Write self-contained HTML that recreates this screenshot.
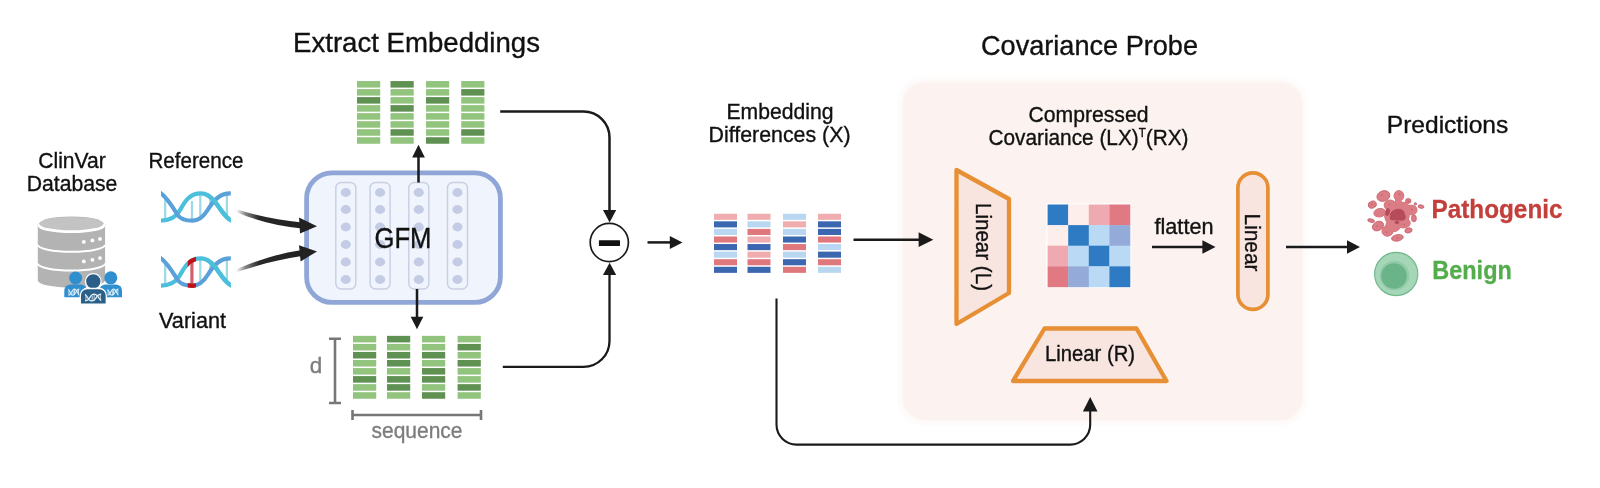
<!DOCTYPE html>
<html><head><meta charset="utf-8">
<style>
html,body{margin:0;padding:0;background:#fff;}
svg{display:block;will-change:transform;transform:translateZ(0)}
text{font-family:"Liberation Sans",sans-serif;fill:#111;stroke:#111;stroke-width:0.35px;}
</style></head>
<body>
<svg width="1600" height="488" viewBox="0 0 1600 488">
<defs>
<linearGradient id="ga" gradientUnits="userSpaceOnUse" x1="236" y1="0" x2="300" y2="0">
<stop offset="0" stop-color="#222" stop-opacity="0"/>
<stop offset="0.15" stop-color="#222" stop-opacity="0.55"/>
<stop offset="0.36" stop-color="#222" stop-opacity="0.97"/>
<stop offset="1" stop-color="#222" stop-opacity="1"/>
</linearGradient>
<filter id="soft" x="-5%" y="-5%" width="110%" height="110%"><feGaussianBlur stdDeviation="1"/></filter>
</defs>
<rect width="1600" height="488" fill="#fff"/>

<!-- pink panel -->
<rect x="897" y="76" width="411" height="350" rx="27" fill="#fefcfb" filter="url(#soft)"/>
<rect x="902.200" y="81.5" width="400.800" height="339.200" rx="22.5" fill="#fcf3f0" filter="url(#soft)"/>

<!-- titles -->
<text x="416.5" y="51.700" font-size="27.5" text-anchor="middle" textLength="247" lengthAdjust="spacingAndGlyphs">Extract Embeddings</text>
<text x="1089.5" y="54.5" font-size="27.5" text-anchor="middle" textLength="217" lengthAdjust="spacingAndGlyphs">Covariance Probe</text>

<!-- left labels -->
<text x="72" y="168.200" font-size="21.5" text-anchor="middle" textLength="67.5" lengthAdjust="spacingAndGlyphs">ClinVar</text>
<text x="72" y="191" font-size="21.5" text-anchor="middle" textLength="90.5" lengthAdjust="spacingAndGlyphs">Database</text>
<text x="196" y="168.200" font-size="21.5" text-anchor="middle" textLength="95" lengthAdjust="spacingAndGlyphs">Reference</text>
<text x="192.5" y="328" font-size="21.5" text-anchor="middle" textLength="67" lengthAdjust="spacingAndGlyphs">Variant</text>

<!-- DB icon -->
<g id="db">
<path d="M37.800 224 V 280.5 a33.650 7 0 0 0 67.300 0 V 224 z" fill="#b3b3b3"/>
<ellipse cx="71.450" cy="224" rx="33.650" ry="7.600" fill="#b3b3b3"/>
<path d="M37.800 226 a33.650 7 0 0 0 67.300 0 V 220 H 37.800 z" fill="#fff"/>
<ellipse cx="71.400" cy="223.600" rx="32.300" ry="6.700" fill="#c3c3c3"/>
<path d="M37.800 244.800 a33.650 7 0 0 0 67.300 0" fill="none" stroke="#fff" stroke-width="2"/>
<path d="M37.800 263.5 a33.650 7 0 0 0 67.300 0" fill="none" stroke="#fff" stroke-width="2"/>
<circle cx="83.800" cy="241.900" r="1.900" fill="#fff"/><circle cx="92.400" cy="240.400" r="1.900" fill="#fff"/><circle cx="100" cy="238.900" r="1.900" fill="#fff"/>
<circle cx="83.800" cy="261.400" r="1.900" fill="#fff"/><circle cx="92.400" cy="259.800" r="1.900" fill="#fff"/><circle cx="100" cy="258.100" r="1.900" fill="#fff"/>
</g>
<g id="people">
<circle cx="75.600" cy="278" r="6.5" fill="#2f8fcf"/>
<path d="M64.300 297.200 V 290.5 a 6 6 0 0 1 6 -6 h 10.5 a 6 6 0 0 1 6 6 V 297.200 z" fill="#2f8fcf"/>
<circle cx="110.800" cy="277.800" r="6.5" fill="#2f8fcf"/>
<path d="M99.5 297.200 V 290.5 a 6 6 0 0 1 6 -6 h 10.5 a 6 6 0 0 1 6 6 V 297.200 z" fill="#2f8fcf"/>
<g transform="translate(68.3,289.2) scale(0.1566,0.2198) translate(-161,-193.4)" fill="none" stroke="#e4f1fa"><path d="M161,220.6 C 170,220.6 175,218 179,211.7 C 184,203.5 188,193.4 201,193.4 C 207,193.4 211,197 214.9,201.6 C 220,208 224,216.5 230.6,220.2" stroke-width="5.85"/><path d="M161,193.4 C 167,197.5 172,206 178,215.4 C 181,219.6 186,220.7 192.5,220.7 C 199,220.7 204,216 208,209.5 C 213,201 219,193.4 230.6,193.4" stroke-width="5.85"/><line x1="165" y1="198" x2="165" y2="218" stroke-width="5.11"/><line x1="192" y1="201" x2="192" y2="219" stroke-width="5.11"/><line x1="200.3" y1="196" x2="200.3" y2="216" stroke-width="5.11"/><line x1="226.9" y1="196" x2="226.9" y2="216" stroke-width="5.11"/></g>
<g transform="translate(107.5,289.2) scale(0.1566,0.2198) translate(-161,-193.4)" fill="none" stroke="#e4f1fa"><path d="M161,220.6 C 170,220.6 175,218 179,211.7 C 184,203.5 188,193.4 201,193.4 C 207,193.4 211,197 214.9,201.6 C 220,208 224,216.5 230.6,220.2" stroke-width="5.85"/><path d="M161,193.4 C 167,197.5 172,206 178,215.4 C 181,219.6 186,220.7 192.5,220.7 C 199,220.7 204,216 208,209.5 C 213,201 219,193.4 230.6,193.4" stroke-width="5.85"/><line x1="165" y1="198" x2="165" y2="218" stroke-width="5.11"/><line x1="192" y1="201" x2="192" y2="219" stroke-width="5.11"/><line x1="200.3" y1="196" x2="200.3" y2="216" stroke-width="5.11"/><line x1="226.9" y1="196" x2="226.9" y2="216" stroke-width="5.11"/></g>
<circle cx="93.300" cy="281.400" r="7.800" fill="#2b5f87" stroke="#fff" stroke-width="1.300"/>
<path d="M80.300 304.200 V 295.5 a 7 7 0 0 1 7 -7 h 12 a 7 7 0 0 1 7 7 V 304.200 z" fill="#2b5f87" stroke="#fff" stroke-width="1.300"/>
<rect x="79" y="304.300" width="29" height="2" fill="#fff"/>
<g transform="translate(85,294.2) scale(0.2328,0.2418) translate(-161,-193.4)" fill="none" stroke="#e4f1fa"><path d="M161,220.6 C 170,220.6 175,218 179,211.7 C 184,203.5 188,193.4 201,193.4 C 207,193.4 211,197 214.9,201.6 C 220,208 224,216.5 230.6,220.2" stroke-width="5.27"/><path d="M161,193.4 C 167,197.5 172,206 178,215.4 C 181,219.6 186,220.7 192.5,220.7 C 199,220.7 204,216 208,209.5 C 213,201 219,193.4 230.6,193.4" stroke-width="5.27"/><line x1="165" y1="198" x2="165" y2="218" stroke-width="3.44"/><line x1="192" y1="201" x2="192" y2="219" stroke-width="3.44"/><line x1="200.3" y1="196" x2="200.3" y2="216" stroke-width="3.44"/><line x1="226.9" y1="196" x2="226.9" y2="216" stroke-width="3.44"/></g>
</g>

<!-- DNA icons -->
<clipPath id="dnaclip"><rect x="161" y="185" width="69.800" height="110"/></clipPath>
<g clip-path="url(#dnaclip)">
<g id="dna1">
<g stroke="#9ad9e6" stroke-width="2.200">
<line x1="165.200" y1="198" x2="165.200" y2="218.5"/>
<line x1="192" y1="201" x2="192" y2="219.5"/>
<line x1="200.300" y1="195" x2="200.300" y2="216"/>
<line x1="210.300" y1="198" x2="210.300" y2="206"/>
<line x1="226.900" y1="195" x2="226.900" y2="215.5"/>
</g>
<path id="cy" d="M157,220.600 L161,220.600 C 170,220.600 175,218 179,211.700 C 184,203.5 188,193.400 201,193.400 C 207,193.400 211,197 214.900,201.600 C 220,208 224,216.5 230.600,220.200 L 234,222.100" fill="none" stroke="#4cbfdb" stroke-width="4.200"/>
<path id="bl" d="M157,190.600 L161,193.400 C 167,197.5 172,206 178,215.400 C 181,219.600 186,220.700 192.5,220.700 C 199,220.700 204,216 208,209.5 C 213,201 219,193.400 230.600,193.400 L 234,193.400" fill="none" stroke="#5ba1d9" stroke-width="4.200"/>
<path d="M206,194.5 C 210,196 212,198.5 214.900,201.600 C 220,208 224,216.5 230.600,220.200 L 234,222.100" fill="none" stroke="#4cbfdb" stroke-width="4.200"/>
</g>
<clipPath id="redclip"><rect x="187.700" y="250" width="8.300" height="45"/></clipPath>
<g id="dna2" transform="translate(0,65)">
<g stroke="#9ad9e6" stroke-width="2.200">
<line x1="165.200" y1="198" x2="165.200" y2="218.5"/>
<line x1="200.300" y1="195" x2="200.300" y2="216"/>
<line x1="210.300" y1="198" x2="210.300" y2="206"/>
<line x1="226.900" y1="195" x2="226.900" y2="215.5"/>
</g>
<line x1="191.900" y1="196" x2="191.900" y2="220" stroke="#d2606c" stroke-width="3.200"/>
<path d="M157,220.600 L161,220.600 C 170,220.600 175,218 179,211.700 C 184,203.5 188,193.400 201,193.400 C 207,193.400 211,197 214.900,201.600 C 220,208 224,216.5 230.600,220.200 L 234,222.100" fill="none" stroke="#4cbfdb" stroke-width="4.200"/>
<path d="M157,190.600 L161,193.400 C 167,197.5 172,206 178,215.400 C 181,219.600 186,220.700 192.5,220.700 C 199,220.700 204,216 208,209.5 C 213,201 219,193.400 230.600,193.400 L 234,193.400" fill="none" stroke="#5ba1d9" stroke-width="4.200"/>
<path d="M206,194.5 C 210,196 212,198.5 214.900,201.600 C 220,208 224,216.5 230.600,220.200 L 234,222.100" fill="none" stroke="#4cbfdb" stroke-width="4.200"/>
</g>
</g>
<g clip-path="url(#redclip)">
<g transform="translate(0,65)">
<path d="M157,220.600 L161,220.600 C 170,220.600 175,218 179,211.700 C 184,203.5 188,193.400 201,193.400 C 207,193.400 211,197 214.900,201.600 C 220,208 224,216.5 230.600,220.200 L 234,222.100" fill="none" stroke="#c1121c" stroke-width="4.400"/>
<path d="M157,190.600 L161,193.400 C 167,197.5 172,206 178,215.400 C 181,219.600 186,220.700 192.5,220.700 C 199,220.700 204,216 208,209.5 C 213,201 219,193.400 230.600,193.400 L 234,193.400" fill="none" stroke="#c1121c" stroke-width="4.400"/>
</g></g>

<!-- green grids -->
<rect x="357.0" y="81.05" width="23.2" height="6.53" fill="#93c47d"/>
<rect x="357.0" y="89.08" width="23.2" height="6.53" fill="#93c47d"/>
<rect x="357.0" y="97.10" width="23.2" height="6.53" fill="#5f9152"/>
<rect x="357.0" y="105.12" width="23.2" height="6.53" fill="#93c47d"/>
<rect x="357.0" y="113.15" width="23.2" height="6.53" fill="#93c47d"/>
<rect x="357.0" y="121.17" width="23.2" height="6.53" fill="#93c47d"/>
<rect x="357.0" y="129.20" width="23.2" height="6.53" fill="#93c47d"/>
<rect x="357.0" y="137.22" width="23.2" height="6.53" fill="#93c47d"/>
<rect x="390.5" y="81.05" width="23.2" height="6.53" fill="#5f9152"/>
<rect x="390.5" y="89.08" width="23.2" height="6.53" fill="#93c47d"/>
<rect x="390.5" y="97.10" width="23.2" height="6.53" fill="#93c47d"/>
<rect x="390.5" y="105.12" width="23.2" height="6.53" fill="#5f9152"/>
<rect x="390.5" y="113.15" width="23.2" height="6.53" fill="#93c47d"/>
<rect x="390.5" y="121.17" width="23.2" height="6.53" fill="#93c47d"/>
<rect x="390.5" y="129.20" width="23.2" height="6.53" fill="#5f9152"/>
<rect x="390.5" y="137.22" width="23.2" height="6.53" fill="#93c47d"/>
<rect x="426.0" y="81.05" width="23.2" height="6.53" fill="#93c47d"/>
<rect x="426.0" y="89.08" width="23.2" height="6.53" fill="#93c47d"/>
<rect x="426.0" y="97.10" width="23.2" height="6.53" fill="#5f9152"/>
<rect x="426.0" y="105.12" width="23.2" height="6.53" fill="#93c47d"/>
<rect x="426.0" y="113.15" width="23.2" height="6.53" fill="#93c47d"/>
<rect x="426.0" y="121.17" width="23.2" height="6.53" fill="#93c47d"/>
<rect x="426.0" y="129.20" width="23.2" height="6.53" fill="#93c47d"/>
<rect x="426.0" y="137.22" width="23.2" height="6.53" fill="#5f9152"/>
<rect x="461.2" y="81.05" width="23.2" height="6.53" fill="#93c47d"/>
<rect x="461.2" y="89.08" width="23.2" height="6.53" fill="#5f9152"/>
<rect x="461.2" y="97.10" width="23.2" height="6.53" fill="#93c47d"/>
<rect x="461.2" y="105.12" width="23.2" height="6.53" fill="#93c47d"/>
<rect x="461.2" y="113.15" width="23.2" height="6.53" fill="#93c47d"/>
<rect x="461.2" y="121.17" width="23.2" height="6.53" fill="#93c47d"/>
<rect x="461.2" y="129.20" width="23.2" height="6.53" fill="#5f9152"/>
<rect x="461.2" y="137.22" width="23.2" height="6.53" fill="#93c47d"/>
<rect x="353.0" y="335.85" width="23.2" height="6.55" fill="#93c47d"/>
<rect x="353.0" y="343.90" width="23.2" height="6.55" fill="#93c47d"/>
<rect x="353.0" y="351.95" width="23.2" height="6.55" fill="#5f9152"/>
<rect x="353.0" y="360.00" width="23.2" height="6.55" fill="#93c47d"/>
<rect x="353.0" y="368.05" width="23.2" height="6.55" fill="#93c47d"/>
<rect x="353.0" y="376.10" width="23.2" height="6.55" fill="#5f9152"/>
<rect x="353.0" y="384.15" width="23.2" height="6.55" fill="#93c47d"/>
<rect x="353.0" y="392.20" width="23.2" height="6.55" fill="#93c47d"/>
<rect x="387.0" y="335.85" width="23.2" height="6.55" fill="#5f9152"/>
<rect x="387.0" y="343.90" width="23.2" height="6.55" fill="#93c47d"/>
<rect x="387.0" y="351.95" width="23.2" height="6.55" fill="#5f9152"/>
<rect x="387.0" y="360.00" width="23.2" height="6.55" fill="#5f9152"/>
<rect x="387.0" y="368.05" width="23.2" height="6.55" fill="#93c47d"/>
<rect x="387.0" y="376.10" width="23.2" height="6.55" fill="#5f9152"/>
<rect x="387.0" y="384.15" width="23.2" height="6.55" fill="#5f9152"/>
<rect x="387.0" y="392.20" width="23.2" height="6.55" fill="#93c47d"/>
<rect x="422.0" y="335.85" width="23.2" height="6.55" fill="#93c47d"/>
<rect x="422.0" y="343.90" width="23.2" height="6.55" fill="#93c47d"/>
<rect x="422.0" y="351.95" width="23.2" height="6.55" fill="#5f9152"/>
<rect x="422.0" y="360.00" width="23.2" height="6.55" fill="#93c47d"/>
<rect x="422.0" y="368.05" width="23.2" height="6.55" fill="#5f9152"/>
<rect x="422.0" y="376.10" width="23.2" height="6.55" fill="#5f9152"/>
<rect x="422.0" y="384.15" width="23.2" height="6.55" fill="#93c47d"/>
<rect x="422.0" y="392.20" width="23.2" height="6.55" fill="#5f9152"/>
<rect x="457.6" y="335.85" width="23.2" height="6.55" fill="#93c47d"/>
<rect x="457.6" y="343.90" width="23.2" height="6.55" fill="#5f9152"/>
<rect x="457.6" y="351.95" width="23.2" height="6.55" fill="#93c47d"/>
<rect x="457.6" y="360.00" width="23.2" height="6.55" fill="#5f9152"/>
<rect x="457.6" y="368.05" width="23.2" height="6.55" fill="#93c47d"/>
<rect x="457.6" y="376.10" width="23.2" height="6.55" fill="#93c47d"/>
<rect x="457.6" y="384.15" width="23.2" height="6.55" fill="#5f9152"/>
<rect x="457.6" y="392.20" width="23.2" height="6.55" fill="#93c47d"/>

<!-- GFM box -->
<rect x="306.600" y="172.800" width="193.800" height="129.600" rx="25.5" fill="#f0f4fd" stroke="#8fa6d6" stroke-width="4.800"/>
<rect x="335.8" y="182.5" width="20" height="106.5" rx="5.5" fill="#f0f4fc" stroke="#c8cee3" stroke-width="1.400"/>
<ellipse cx="345.8" cy="192.5" rx="5.1" ry="4.4" fill="#c4cbe4"/>
<ellipse cx="345.8" cy="209.5" rx="5.1" ry="4.4" fill="#c4cbe4"/>
<ellipse cx="345.8" cy="227" rx="5.1" ry="4.4" fill="#c4cbe4"/>
<ellipse cx="345.8" cy="244.5" rx="5.1" ry="4.4" fill="#c4cbe4"/>
<ellipse cx="345.8" cy="262" rx="5.1" ry="4.4" fill="#c4cbe4"/>
<ellipse cx="345.8" cy="279.5" rx="5.1" ry="4.4" fill="#c4cbe4"/>
<rect x="370.1" y="182.5" width="20" height="106.5" rx="5.5" fill="#f0f4fc" stroke="#c8cee3" stroke-width="1.400"/>
<ellipse cx="380.1" cy="192.5" rx="5.1" ry="4.4" fill="#c4cbe4"/>
<ellipse cx="380.1" cy="209.5" rx="5.1" ry="4.4" fill="#c4cbe4"/>
<ellipse cx="380.1" cy="227" rx="5.1" ry="4.4" fill="#c4cbe4"/>
<ellipse cx="380.1" cy="244.5" rx="5.1" ry="4.4" fill="#c4cbe4"/>
<ellipse cx="380.1" cy="262" rx="5.1" ry="4.4" fill="#c4cbe4"/>
<ellipse cx="380.1" cy="279.5" rx="5.1" ry="4.4" fill="#c4cbe4"/>
<rect x="408.8" y="182.5" width="20" height="106.5" rx="5.5" fill="#f0f4fc" stroke="#c8cee3" stroke-width="1.400"/>
<ellipse cx="418.8" cy="192.5" rx="5.1" ry="4.4" fill="#c4cbe4"/>
<ellipse cx="418.8" cy="209.5" rx="5.1" ry="4.4" fill="#c4cbe4"/>
<ellipse cx="418.8" cy="227" rx="5.1" ry="4.4" fill="#c4cbe4"/>
<ellipse cx="418.8" cy="244.5" rx="5.1" ry="4.4" fill="#c4cbe4"/>
<ellipse cx="418.8" cy="262" rx="5.1" ry="4.4" fill="#c4cbe4"/>
<ellipse cx="418.8" cy="279.5" rx="5.1" ry="4.4" fill="#c4cbe4"/>
<rect x="447.5" y="182.5" width="20" height="106.5" rx="5.5" fill="#f0f4fc" stroke="#c8cee3" stroke-width="1.400"/>
<ellipse cx="457.5" cy="192.5" rx="5.1" ry="4.4" fill="#c4cbe4"/>
<ellipse cx="457.5" cy="209.5" rx="5.1" ry="4.4" fill="#c4cbe4"/>
<ellipse cx="457.5" cy="227" rx="5.1" ry="4.4" fill="#c4cbe4"/>
<ellipse cx="457.5" cy="244.5" rx="5.1" ry="4.4" fill="#c4cbe4"/>
<ellipse cx="457.5" cy="262" rx="5.1" ry="4.4" fill="#c4cbe4"/>
<ellipse cx="457.5" cy="279.5" rx="5.1" ry="4.4" fill="#c4cbe4"/>
<text x="403" y="247.5" font-size="29" text-anchor="middle" textLength="57" lengthAdjust="spacingAndGlyphs">GFM</text>

<!-- curved gradient arrows -->
<path d="M237 209.600 C 260 216.400 280 220.200 302 222.5 L 302 228.5 C 280 226 260 221.800 237 212.600 Z" fill="url(#ga)"/>
<path d="M299 217.400 L 317 226.300 L 300 233.400 Z" fill="#222"/>
<path d="M237 268.900 C 260 259.400 280 253.200 302 250 L 302 256 C 280 258.900 260 264.700 237 272 Z" fill="url(#ga)"/>
<path d="M299 245.200 L 317 251.400 L 300.600 261.400 Z" fill="#222"/>

<!-- arrows up/down from GFM -->
<g stroke="#1a1a1a" stroke-width="2.5" fill="none">
<line x1="418.5" y1="182.5" x2="418.5" y2="156"/>
<line x1="417" y1="289" x2="417" y2="319"/>
<path d="M500.200 111.600 H 583.5 a 26 26 0 0 1 26 26 V 212"/>
<path d="M502.800 366.900 H 583.5 a 26 26 0 0 0 26 -26 V 273" stroke-width="2.300"/>
<line x1="647.5" y1="242.400" x2="671" y2="242.400"/>
<line x1="853.5" y1="239.700" x2="920" y2="239.700"/>
<line x1="1152" y1="247" x2="1204" y2="247"/>
<line x1="1286" y1="247" x2="1348" y2="247"/>
</g>
<path d="M776.5 298.5 V 424.600 a 20 20 0 0 0 20 20 H 1070.200 a 20 20 0 0 0 20 -20 V 410" stroke="#1a1a1a" stroke-width="2.100" fill="none"/>
<g fill="#1a1a1a">
<path d="M418.5 144.800 L 424.900 157.600 H 412.100 Z"/>
<path d="M417 329.300 L 423.300 316.800 H 410.700 Z"/>
<path d="M609.600 222.400 L 616.200 210 H 603 Z"/>
<path d="M609.600 262.800 L 616.200 275 H 603 Z"/>
<path d="M682.5 242.400 L 669.800 248.900 V 235.900 Z"/>
<path d="M933.300 239.700 L 918.600 247.100 V 232.300 Z"/>
<path d="M1090.200 397 L 1097.5 411.5 H 1082.900 Z"/>
<path d="M1215.5 247 L 1202.400 253.700 V 240.300 Z"/>
<path d="M1360 247 L 1347 253.700 V 240.300 Z"/>
</g>

<!-- minus circle -->
<circle cx="609.300" cy="242.5" r="19.100" fill="#fff" stroke="#1a1a1a" stroke-width="1.700"/>
<rect x="598.900" y="240.200" width="21.100" height="5.800" rx="0.5" fill="#111"/>

<!-- d / sequence brackets -->
<g stroke="#777" stroke-width="2.600" fill="none">
<path d="M329 338.800 H 341 M335 338.800 V 403 M329 403 H 341"/>
<path d="M352.5 410 V 420 M352.5 415 H 481 M481 410 V 420"/>
</g>
<text x="316" y="372.800" font-size="22.5" text-anchor="middle" style="fill:#7d7d7d;stroke:#7d7d7d">d</text>
<text x="417" y="438" font-size="21.5" text-anchor="middle" textLength="91" lengthAdjust="spacingAndGlyphs" style="fill:#7d7d7d;stroke:#7d7d7d">sequence</text>

<!-- embedding diff -->
<text x="780" y="118.700" font-size="21.5" text-anchor="middle" textLength="107" lengthAdjust="spacingAndGlyphs">Embedding</text>
<text x="779.5" y="141.700" font-size="21.5" text-anchor="middle" textLength="142" lengthAdjust="spacingAndGlyphs">Differences (X)</text>
<rect x="714.0" y="213.75" width="23.0" height="6.08" fill="#efadb0"/>
<rect x="714.0" y="221.32" width="23.0" height="6.08" fill="#3b66b0"/>
<rect x="714.0" y="228.90" width="23.0" height="6.08" fill="#b9d7f0"/>
<rect x="714.0" y="236.48" width="23.0" height="6.08" fill="#df787d"/>
<rect x="714.0" y="244.05" width="23.0" height="6.08" fill="#3b66b0"/>
<rect x="714.0" y="251.62" width="23.0" height="6.08" fill="#b9d7f0"/>
<rect x="714.0" y="259.20" width="23.0" height="6.08" fill="#df787d"/>
<rect x="714.0" y="266.78" width="23.0" height="6.08" fill="#3b66b0"/>
<rect x="747.5" y="213.75" width="23.0" height="6.08" fill="#efadb0"/>
<rect x="747.5" y="221.32" width="23.0" height="6.08" fill="#b9d7f0"/>
<rect x="747.5" y="228.90" width="23.0" height="6.08" fill="#df787d"/>
<rect x="747.5" y="236.48" width="23.0" height="6.08" fill="#efadb0"/>
<rect x="747.5" y="244.05" width="23.0" height="6.08" fill="#3b66b0"/>
<rect x="747.5" y="251.62" width="23.0" height="6.08" fill="#efadb0"/>
<rect x="747.5" y="259.20" width="23.0" height="6.08" fill="#df787d"/>
<rect x="747.5" y="266.78" width="23.0" height="6.08" fill="#3b66b0"/>
<rect x="783.0" y="213.75" width="23.0" height="6.08" fill="#b9d7f0"/>
<rect x="783.0" y="221.32" width="23.0" height="6.08" fill="#efadb0"/>
<rect x="783.0" y="228.90" width="23.0" height="6.08" fill="#b9d7f0"/>
<rect x="783.0" y="236.48" width="23.0" height="6.08" fill="#3b66b0"/>
<rect x="783.0" y="244.05" width="23.0" height="6.08" fill="#df787d"/>
<rect x="783.0" y="251.62" width="23.0" height="6.08" fill="#b9d7f0"/>
<rect x="783.0" y="259.20" width="23.0" height="6.08" fill="#3b66b0"/>
<rect x="783.0" y="266.78" width="23.0" height="6.08" fill="#df787d"/>
<rect x="818.0" y="213.75" width="23.0" height="6.08" fill="#efadb0"/>
<rect x="818.0" y="221.32" width="23.0" height="6.08" fill="#3b66b0"/>
<rect x="818.0" y="228.90" width="23.0" height="6.08" fill="#3b66b0"/>
<rect x="818.0" y="236.48" width="23.0" height="6.08" fill="#df787d"/>
<rect x="818.0" y="244.05" width="23.0" height="6.08" fill="#b9d7f0"/>
<rect x="818.0" y="251.62" width="23.0" height="6.08" fill="#3b66b0"/>
<rect x="818.0" y="259.20" width="23.0" height="6.08" fill="#df787d"/>
<rect x="818.0" y="266.78" width="23.0" height="6.08" fill="#b9d7f0"/>

<!-- covariance -->
<text x="1088.5" y="121.5" font-size="21.5" text-anchor="middle" textLength="120" lengthAdjust="spacingAndGlyphs">Compressed</text>
<text x="988.5" y="144.700" font-size="21.5" textLength="200" lengthAdjust="spacingAndGlyphs">Covariance (LX)<tspan font-size="12" dy="-8">T</tspan><tspan dy="8">(RX)</tspan></text>

<path d="M956.5 170 L 1009 199 V 293 L 956.5 324 Z" fill="#f8e5e0" stroke="#e78f35" stroke-width="4.300" stroke-linejoin="round"/>
<text transform="translate(975.5,247) rotate(90)" font-size="21.5" text-anchor="middle" textLength="88" lengthAdjust="spacingAndGlyphs">Linear (L)</text>
<rect x="1046.3" y="203.2" width="85" height="85" fill="#fff" opacity="0.9"/>
<rect x="1047.60" y="204.50" width="20.90" height="20.90" fill="#2e7bc4"/>
<rect x="1068.20" y="204.50" width="20.90" height="20.90" fill="#fdeeec"/>
<rect x="1088.80" y="204.50" width="20.90" height="20.90" fill="#eeaab0"/>
<rect x="1109.40" y="204.50" width="20.90" height="20.90" fill="#e07982"/>
<rect x="1047.60" y="225.10" width="20.90" height="20.90" fill="#fdeeec"/>
<rect x="1068.20" y="225.10" width="20.90" height="20.90" fill="#2e7bc4"/>
<rect x="1088.80" y="225.10" width="20.90" height="20.90" fill="#b9d9f5"/>
<rect x="1109.40" y="225.10" width="20.90" height="20.90" fill="#94aad8"/>
<rect x="1047.60" y="245.70" width="20.90" height="20.90" fill="#eeaab0"/>
<rect x="1068.20" y="245.70" width="20.90" height="20.90" fill="#b9d9f5"/>
<rect x="1088.80" y="245.70" width="20.90" height="20.90" fill="#2e7bc4"/>
<rect x="1109.40" y="245.70" width="20.90" height="20.90" fill="#b9d9f5"/>
<rect x="1047.60" y="266.30" width="20.90" height="20.90" fill="#e07982"/>
<rect x="1068.20" y="266.30" width="20.90" height="20.90" fill="#94aad8"/>
<rect x="1088.80" y="266.30" width="20.90" height="20.90" fill="#b9d9f5"/>
<rect x="1109.40" y="266.30" width="20.90" height="20.90" fill="#2e7bc4"/>
<text x="1184" y="233.600" font-size="21.5" text-anchor="middle" textLength="59" lengthAdjust="spacingAndGlyphs">flatten</text>
<rect x="1237.900" y="172.900" width="30" height="136.5" rx="15" fill="#f8e5e0" stroke="#e78f35" stroke-width="3.700"/>
<text transform="translate(1244.900,242.5) rotate(90)" font-size="21.5" text-anchor="middle" textLength="58" lengthAdjust="spacingAndGlyphs">Linear</text>
<path d="M1044.5 328.5 H 1136.5 L 1166.5 381 H 1013 Z" fill="#f8e5e0" stroke="#e78f35" stroke-width="4.300" stroke-linejoin="round"/>
<text x="1090" y="361" font-size="21.5" text-anchor="middle" textLength="90" lengthAdjust="spacingAndGlyphs">Linear (R)</text>

<!-- predictions -->
<text x="1447.5" y="132.700" font-size="24" text-anchor="middle" textLength="121.5" lengthAdjust="spacingAndGlyphs">Predictions</text>
<text x="1431.5" y="218" font-size="25" font-weight="bold" textLength="131" lengthAdjust="spacingAndGlyphs" style="fill:#c43e3a;stroke:#c43e3a;stroke-width:0.3px">Pathogenic</text>
<text x="1432.300" y="278.5" font-size="25" font-weight="bold" textLength="79.5" lengthAdjust="spacingAndGlyphs" style="fill:#54ad4c;stroke:#54ad4c;stroke-width:0.3px">Benign</text>

<g id="patho">
<g fill="#db7d84" stroke="#c4606b" stroke-width="0.8">
<ellipse cx="1383.38" cy="196.00" rx="6.65" ry="5.17" transform="rotate(-20 1383.38 196.00)" />
<ellipse cx="1372.31" cy="204.62" rx="4.18" ry="3.45" transform="rotate(-20 1372.31 204.62)" />
<ellipse cx="1371.08" cy="220.62" rx="3.45" ry="1.72" transform="rotate(15 1371.08 220.62)" />
<ellipse cx="1377.97" cy="226.03" rx="5.91" ry="4.43" transform="rotate(-30 1377.97 226.03)" />
<ellipse cx="1397.42" cy="237.85" rx="5.91" ry="3.20" transform="rotate(-10 1397.42 237.85)" />
<ellipse cx="1408.49" cy="230.46" rx="3.69" ry="2.46" transform="rotate(-15 1408.49 230.46)" />
<ellipse cx="1413.91" cy="218.40" rx="2.46" ry="3.45" transform="rotate(0 1413.91 218.40)" />
<ellipse cx="1421.05" cy="206.58" rx="2.95" ry="1.72" transform="rotate(10 1421.05 206.58)" />
<ellipse cx="1415.38" cy="203.88" rx="1.23" ry="1.23" transform="rotate(0 1415.38 203.88)" />
<ellipse cx="1408.25" cy="200.92" rx="2.71" ry="2.46" transform="rotate(0 1408.25 200.92)" />
<ellipse cx="1396.92" cy="215.69" rx="12.31" ry="11.32" transform="rotate(0 1396.92 215.69)" />
<ellipse cx="1379.69" cy="212.74" rx="5.91" ry="4.18" transform="rotate(-10 1379.69 212.74)" />
<ellipse cx="1411.45" cy="210.03" rx="5.66" ry="4.92" transform="rotate(0 1411.45 210.03)" />
<ellipse cx="1390.03" cy="205.11" rx="5.91" ry="5.17" transform="rotate(0 1390.03 205.11)" />
<ellipse cx="1402.34" cy="206.58" rx="6.40" ry="4.43" transform="rotate(0 1402.34 206.58)" />
<ellipse cx="1398.89" cy="195.75" rx="4.92" ry="5.17" transform="rotate(0 1398.89 195.75)" />
<ellipse cx="1398.15" cy="201.66" rx="2.95" ry="3.45" transform="rotate(0 1398.15 201.66)" />
<ellipse cx="1387.57" cy="230.95" rx="5.66" ry="5.17" transform="rotate(-15 1387.57 230.95)" />
<ellipse cx="1393.23" cy="225.54" rx="7.38" ry="6.15" transform="rotate(0 1393.23 225.54)" />
<ellipse cx="1403.82" cy="223.08" rx="6.40" ry="4.92" transform="rotate(0 1403.82 223.08)" />
</g>
<g fill="#db7d84">
<ellipse cx="1396.92" cy="215.69" rx="12.31" ry="11.32" transform="rotate(0 1396.92 215.69)" />
<ellipse cx="1379.69" cy="212.74" rx="5.91" ry="4.18" transform="rotate(-10 1379.69 212.74)" />
<ellipse cx="1411.45" cy="210.03" rx="5.66" ry="4.92" transform="rotate(0 1411.45 210.03)" />
<ellipse cx="1390.03" cy="205.11" rx="5.91" ry="5.17" transform="rotate(0 1390.03 205.11)" />
<ellipse cx="1402.34" cy="206.58" rx="6.40" ry="4.43" transform="rotate(0 1402.34 206.58)" />
<ellipse cx="1398.89" cy="195.75" rx="4.92" ry="5.17" transform="rotate(0 1398.89 195.75)" />
<ellipse cx="1398.15" cy="201.66" rx="2.95" ry="3.45" transform="rotate(0 1398.15 201.66)" />
<ellipse cx="1387.57" cy="230.95" rx="5.66" ry="5.17" transform="rotate(-15 1387.57 230.95)" />
<ellipse cx="1393.23" cy="225.54" rx="7.38" ry="6.15" transform="rotate(0 1393.23 225.54)" />
<ellipse cx="1403.82" cy="223.08" rx="6.40" ry="4.92" transform="rotate(0 1403.82 223.08)" />
</g>
<g fill="#b64c5a">
<ellipse cx="1397.42" cy="214.46" rx="7.38" ry="5.66" transform="rotate(-10 1397.42 214.46)" />
<ellipse cx="1401.35" cy="216.92" rx="4.43" ry="3.94" transform="rotate(0 1401.35 216.92)" />
<ellipse cx="1393.23" cy="217.42" rx="3.45" ry="2.95" transform="rotate(0 1393.23 217.42)" />
<ellipse cx="1387.57" cy="212.00" rx="2.22" ry="3.94" transform="rotate(12 1387.57 212.00)" />
<ellipse cx="1396.92" cy="222.34" rx="2.22" ry="1.97" transform="rotate(0 1396.92 222.34)" />
</g>
<g fill="#c25c68">
<ellipse cx="1381.66" cy="195.26" rx="0.74" ry="0.74" transform="rotate(0 1381.66 195.26)" />
<ellipse cx="1399.38" cy="194.28" rx="0.74" ry="0.74" transform="rotate(0 1399.38 194.28)" />
<ellipse cx="1371.82" cy="204.62" rx="0.74" ry="0.74" transform="rotate(0 1371.82 204.62)" />
<ellipse cx="1377.23" cy="226.28" rx="0.74" ry="0.74" transform="rotate(0 1377.23 226.28)" />
<ellipse cx="1386.58" cy="232.18" rx="0.74" ry="0.74" transform="rotate(0 1386.58 232.18)" />
<ellipse cx="1397.42" cy="238.09" rx="0.74" ry="0.74" transform="rotate(0 1397.42 238.09)" />
<ellipse cx="1411.69" cy="209.54" rx="0.74" ry="0.74" transform="rotate(0 1411.69 209.54)" />
<ellipse cx="1404.31" cy="224.80" rx="0.74" ry="0.74" transform="rotate(0 1404.31 224.80)" />
<ellipse cx="1389.05" cy="204.62" rx="0.74" ry="0.74" transform="rotate(0 1389.05 204.62)" />
<ellipse cx="1408.25" cy="201.17" rx="0.74" ry="0.74" transform="rotate(0 1408.25 201.17)" />
</g>
</g>
<g id="benign">
<circle cx="1396.200" cy="274" r="21.600" fill="#a6d6b8" stroke="#72b98d" stroke-width="1.200"/>
<circle cx="1394.5" cy="275.5" r="14.800" fill="#93cba9"/>
<circle cx="1394" cy="276" r="12.800" fill="#6bb48a"/>
</g>
</svg>
</body></html>
